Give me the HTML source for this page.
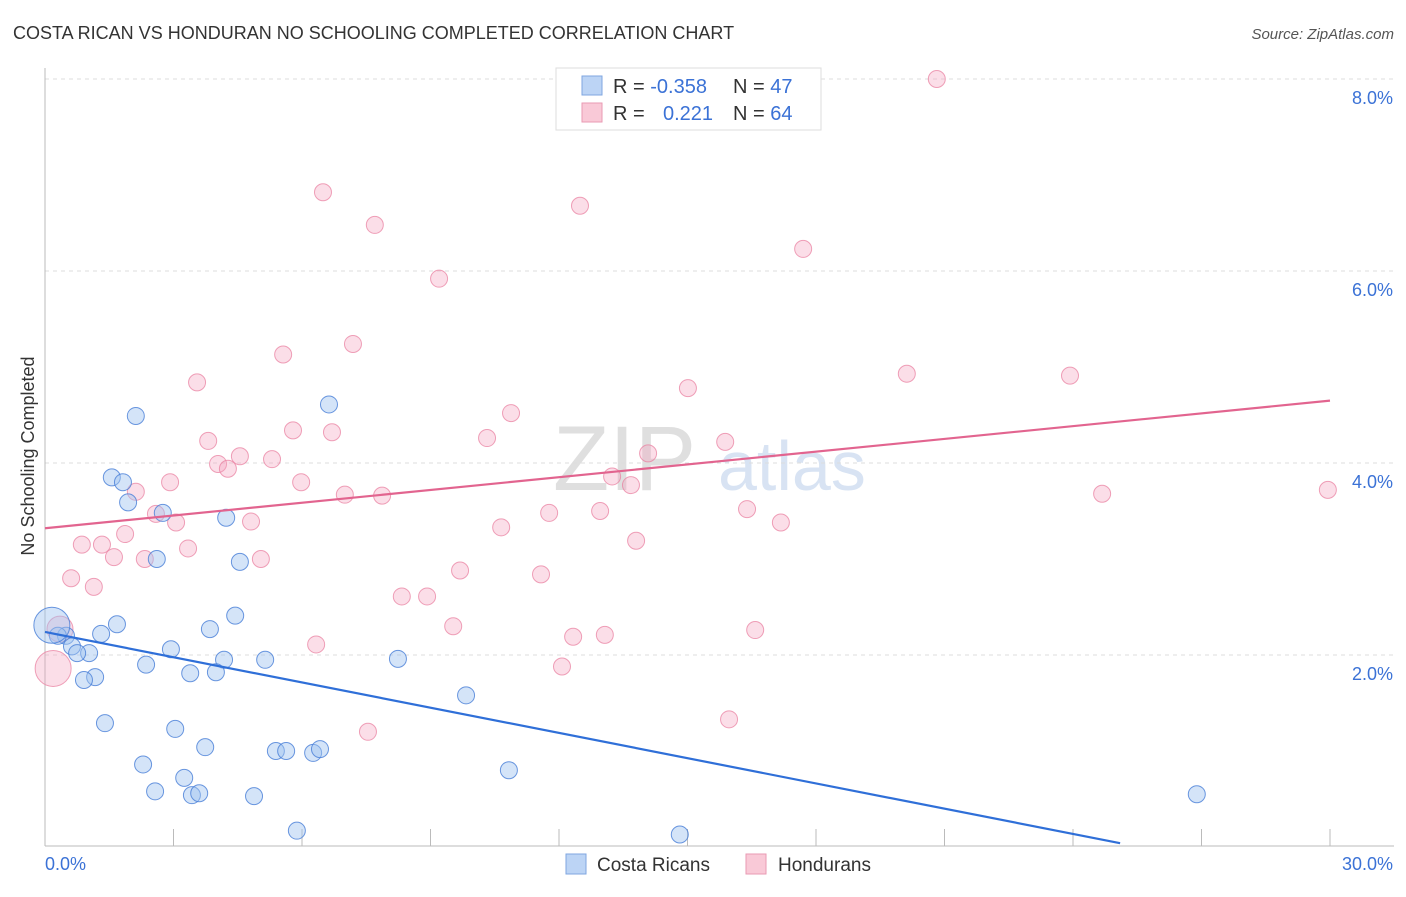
<!DOCTYPE html>
<html><head><meta charset="utf-8"><style>
body{margin:0;background:#fff;font-family:"Liberation Sans",sans-serif;}
svg text{font-family:"Liberation Sans",sans-serif;}
</style></head><body>
<svg id="chart" width="1406" height="892" viewBox="0 0 1406 892" xmlns="http://www.w3.org/2000/svg">
<text x="13" y="39" font-size="18" fill="#333">COSTA RICAN VS HONDURAN NO SCHOOLING COMPLETED CORRELATION CHART</text>
<text x="1394" y="39" font-size="15" fill="#555" font-style="italic" text-anchor="end">Source: ZipAtlas.com</text>
<g>
<text x="553" y="490" font-size="92" fill="#d8d8d8" font-family="Liberation Serif" opacity="0.8">ZIP</text>
<text x="718" y="490" font-size="70" fill="#c8d8ee" opacity="0.7">atlas</text>
</g>
<g id="grid"></g>
<g id="axes"></g>
<g id="pinkPts"></g>
<g id="bluePts"></g>
<g id="lines"></g>
<text transform="translate(34,456) rotate(-90)" font-size="18" fill="#333" text-anchor="middle">No Schooling Completed</text>
<g>
<rect x="556" y="68" width="265" height="62" fill="#fff" stroke="#ddd"/>
<rect x="582" y="76" width="20" height="19" fill="#bcd4f5" stroke="#7fa6e0"/>
<rect x="582" y="103" width="20" height="19" fill="#f9c9d7" stroke="#e99ab3"/>
<text x="613" y="93" font-size="20" fill="#333">R = <tspan fill="#3b72d6">-0.358</tspan></text>
<text x="733" y="93" font-size="20" fill="#333">N = <tspan fill="#3b72d6">47</tspan></text>
<text x="613" y="120" font-size="20" fill="#333">R = </text>
<text x="663" y="120" font-size="20" fill="#3b72d6">0.221</text>
<text x="733" y="120" font-size="20" fill="#333">N = <tspan fill="#3b72d6">64</tspan></text>
</g>
<g>
<rect x="566" y="854" width="20" height="20" fill="#bcd4f5" stroke="#7fa6e0"/>
<text x="597" y="871" font-size="19" fill="#333">Costa Ricans</text>
<rect x="746" y="854" width="20" height="20" fill="#f9c9d7" stroke="#e99ab3"/>
<text x="778" y="871" font-size="19" fill="#333">Hondurans</text>
</g>
</svg>
<script>
const yTicks=[2,4,6,8];
const yTickLabels=["2.0%","4.0%","6.0%","8.0%"];
const xTickCount=10;
const blueX=[2.12,6.63,1.56,1.82,1.94,2.75,4.23,2.61,4.55,4.44,3.85,1.68,1.31,0.49,0.30,0.16,0.63,1.03,0.75,2.94,4.18,5.14,8.24,2.36,3.39,3.99,1.17,0.91,9.83,1.40,3.04,3.74,5.39,5.63,6.26,6.42,2.29,3.25,10.83,2.57,3.43,3.60,4.88,5.88,14.82,26.89];
const blueY=[4.49,4.61,3.85,3.80,3.59,3.48,3.43,3.00,2.97,2.41,2.27,2.32,2.22,2.20,2.20,2.31,2.09,2.02,2.02,2.06,1.95,1.95,1.96,1.90,1.81,1.82,1.77,1.74,1.58,1.29,1.23,1.04,1.00,1.00,0.98,1.02,0.86,0.72,0.80,0.58,0.54,0.56,0.53,0.17,0.13,0.55];
const blueBig=[15];
const pinkX=[20.82,6.49,7.70,12.49,17.70,9.20,7.19,5.56,3.55,20.12,23.93,15.01,10.88,3.81,5.79,6.70,10.32,15.88,4.55,5.30,4.04,4.27,14.08,13.24,2.92,5.98,2.12,13.68,7.00,7.87,24.68,29.95,2.59,3.06,4.81,11.77,12.96,16.39,17.18,10.65,0.86,1.33,3.34,1.87,1.61,2.33,5.04,13.80,9.69,11.58,0.61,1.14,8.33,8.92,9.53,12.33,13.07,16.58,0.35,6.33,0.19,12.07,15.97,7.54];
const pinkY=[8.00,6.82,6.48,6.68,6.23,5.92,5.24,5.13,4.84,4.93,4.91,4.78,4.52,4.23,4.34,4.32,4.26,4.22,4.07,4.04,3.99,3.94,4.10,3.86,3.80,3.80,3.70,3.77,3.67,3.66,3.68,3.72,3.47,3.38,3.39,3.48,3.50,3.52,3.38,3.33,3.15,3.15,3.11,3.26,3.02,3.00,3.00,3.19,2.88,2.84,2.80,2.71,2.61,2.61,2.30,2.19,2.21,2.26,2.27,2.11,1.86,1.88,1.33,1.20];
const pinkBig=[58,60];
const blueTrend=[[0,2.24],[25.1,0.04]];
const pinkTrend=[[0,3.32],[30,4.65]];
const NS="http://www.w3.org/2000/svg";
const sx=v=>45+v/30*1285;
const sy=v=>847-v*96;
function mk(tag,parent,attrs){const e=document.createElementNS(NS,tag);for(const k in attrs)e.setAttribute(k,attrs[k]);document.getElementById(parent).appendChild(e);return e;}
yTicks.forEach((t,i)=>{
 const l=mk('line','grid',{x1:45,x2:1394,y1:sy(t),y2:sy(t),stroke:'#ddd','stroke-dasharray':'4,4'});
 
 
 const tx=mk('text','grid',{x:1393,y:sy(t)+25,'font-size':18,fill:'#3b72d6','text-anchor':'end'});
 tx.textContent=yTickLabels[i];
 
 
});
const ya=mk('line','axes',{x1:45,x2:45,y1:68,y2:846,stroke:'#bbb'});


const xa=mk('line','axes',{x1:45,x2:1394,y1:846,y2:846,stroke:'#bbb'});


for(let i=1;i<=xTickCount;i++){const x=sx(i*3);
 const t=mk('line','axes',{x1:x,x2:x,y1:829,y2:846,stroke:'#bbb'});
 
 }
const xl0=mk('text','axes',{x:45,y:870,'font-size':18,fill:'#3b72d6'});xl0.textContent="0.0%";


const xl1=mk('text','axes',{x:1393,y:870,'font-size':18,fill:'#3b72d6','text-anchor':'end'});xl1.textContent="30.0%";


pinkX.forEach((x,i)=>{
 const c=mk('circle','pinkPts',{cx:sx(x),cy:sy(pinkY[i]),r:pinkBig.includes(i)?(i===60?18:13):8.5,fill:'rgba(244,160,188,0.35)',stroke:'rgba(233,130,162,0.75)','stroke-width':1});
 
 
});
blueX.forEach((x,i)=>{
 const c=mk('circle','bluePts',{cx:sx(x),cy:sy(blueY[i]),r:blueBig.includes(i)?18:8.5,fill:'rgba(160,195,240,0.45)',stroke:'rgba(70,125,215,0.8)','stroke-width':1});
 
 
});
const bl=mk('line','lines',{x1:sx(blueTrend[0][0]),y1:sy(blueTrend[0][1]),x2:sx(blueTrend[1][0]),y2:sy(blueTrend[1][1]),stroke:'#2f6fd8','stroke-width':2.2});


const pl=mk('line','lines',{x1:sx(pinkTrend[0][0]),y1:sy(pinkTrend[0][1]),x2:sx(pinkTrend[1][0]),y2:sy(pinkTrend[1][1]),stroke:'#e2648f','stroke-width':2.2});


</script>
</body></html>
